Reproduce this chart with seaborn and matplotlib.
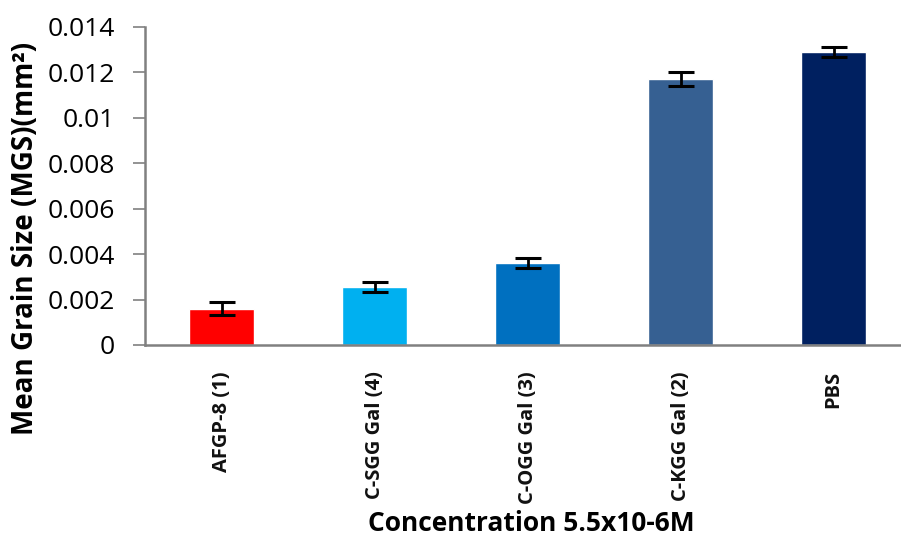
import matplotlib
matplotlib.use('Agg')
import matplotlib.pyplot as plt
import seaborn as sns
import pandas as pd
import numpy as np
from matplotlib.ticker import FuncFormatter, FixedLocator

# Данные
categories = ['AFGP-8 (1)', 'C-SGG Gal (4)', 'C-OGG Gal (3)', 'C-KGG Gal (2)', 'PBS']
mgs_values = [0.00160, 0.00255, 0.00360, 0.01172, 0.01290]
mgs_errors = [0.00030, 0.00020, 0.00022, 0.00030, 0.00022]
bar_colors = ['#FF0000', '#00B0F0', '#0070C0', '#366092', '#002060']

df = pd.DataFrame({'Sample': categories, 'MGS': mgs_values})

sns.set_style('white')
plt.rcParams['font.family'] = ['Open Sans', 'DejaVu Sans']

fig = plt.figure(figsize=(9.01, 5.39), dpi=100)
ax = fig.add_axes([0.161, 0.36, 0.849, 0.59])

sns.barplot(data=df, x='Sample', y='MGS', hue='Sample', palette=bar_colors,
            width=0.42, legend=False, saturation=1, ax=ax)
ax.errorbar(np.arange(len(categories)), mgs_values, yerr=mgs_errors, fmt='none',
            ecolor='black', elinewidth=2.0, capsize=9.5, capthick=2.2)

ax.set_xlim(-0.5, len(categories) - 0.5)
ax.set_ylim(0, 0.014)
ax.set_yticks(np.arange(0, 0.0141, 0.002))
ax.yaxis.set_major_formatter(FuncFormatter(lambda v, p: f'{v:g}'))

# Подписи категорий и засечки между ними
ax.xaxis.set_minor_locator(FixedLocator(np.arange(-0.5, len(categories), 1.0)))
ax.tick_params(axis='x', which='major', length=0, pad=19)
ax.tick_params(axis='x', which='minor', length=7, width=1.2, color='#808080', direction='out')
ax.tick_params(axis='y', length=8.5, width=1.2, color='#808080', direction='out',
               labelsize=19, labelcolor='black', pad=13.5, left=True)
for lbl in ax.get_xticklabels():
    lbl.set_rotation(90)
    lbl.set_fontsize(14.5)
    lbl.set_fontweight('bold')
    lbl.set_color('#111111')
    lbl.set_va('top')
    lbl.set_ha('center')

for side in ['top', 'right']:
    ax.spines[side].set_visible(False)
for side in ['left', 'bottom']:
    ax.spines[side].set_color('#808080')
    ax.spines[side].set_linewidth(1.8)

ax.set_xlabel('Concentration 5.5x10-6M', fontsize=19, fontweight='bold', color='black')
ax.xaxis.set_label_coords(0.505, -0.52)
ax.set_ylabel('Mean Grain Size (MGS)(mm²)', fontsize=20, fontweight='bold', color='black')
ax.yaxis.set_label_coords(-0.137, 0.335)

fig.savefig('out.png', dpi=100)
